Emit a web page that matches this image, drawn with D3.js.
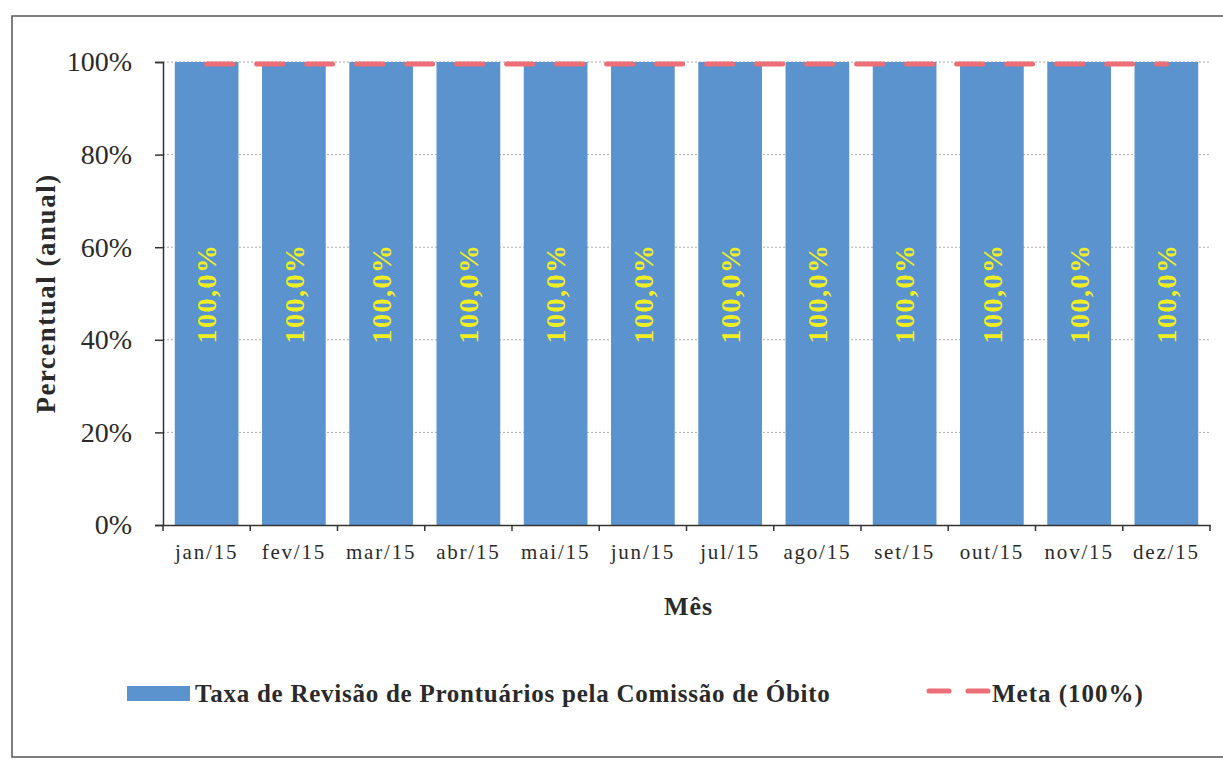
<!DOCTYPE html>
<html lang="pt">
<head>
<meta charset="UTF-8">
<title>Taxa de Revisão de Prontuários</title>
<script src="https://d3js.org/d3.v7.min.js"></script>
<style>
  body { margin: 0; background: #fff; }
  svg { font-family: "Liberation Serif", "Times New Roman", serif; }
</style>
</head>
<body>
<div id="chart"></div>
<script>
  // data
  const months = ["jan/15", "fev/15", "mar/15", "abr/15", "mai/15", "jun/15",
                  "jul/15", "ago/15", "set/15", "out/15", "nov/15", "dez/15"];
  const taxa = [100, 100, 100, 100, 100, 100, 100, 100, 100, 100, 100, 100];
  const meta = [100, 100, 100, 100, 100, 100, 100, 100, 100, 100, 100, 100];
  const yTicks = [0, 20, 40, 60, 80, 100];

  const W = 1223, H = 760;
  const plot = { left: 163, right: 1210, top: 62, bottom: 525 };
  const textColor = "#2a2a2a";

  const svg = d3.select("#chart").append("svg")
    .attr("width", W).attr("height", H);

  // outer frame
  svg.append("rect")
    .attr("x", 12).attr("y", 16)
    .attr("width", 1230).attr("height", 741)
    .attr("fill", "none").attr("stroke", "#555").attr("stroke-width", 1.5);

  const x = d3.scaleBand()
    .domain(months)
    .range([plot.left, plot.right])
    .paddingInner(0.27)
    .paddingOuter(0.135);

  const y = d3.scaleLinear()
    .domain([0, 100])
    .range([plot.bottom, plot.top]);

  // gridlines
  svg.append("g")
    .selectAll("line")
    .data(yTicks.filter(d => d > 0))
    .join("line")
    .attr("x1", plot.left).attr("x2", plot.right)
    .attr("y1", d => y(d)).attr("y2", d => y(d))
    .attr("stroke", "#aaa").attr("stroke-width", 1)
    .attr("stroke-dasharray", "2,2");

  // bars
  svg.append("g")
    .selectAll("rect")
    .data(taxa)
    .join("rect")
    .attr("x", (d, i) => x(months[i]))
    .attr("y", d => y(d))
    .attr("width", x.bandwidth())
    .attr("height", d => y(0) - y(d))
    .attr("fill", "#5b93cf");

  // data labels
  svg.append("g")
    .selectAll("text")
    .data(taxa)
    .join("text")
    .attr("transform", (d, i) =>
      `translate(${x(months[i]) + x.bandwidth() / 2},${(y(d) + y(0)) / 2}) rotate(-90)`)
    .attr("text-anchor", "middle")
    .attr("dy", "0.35em")
    .attr("fill", "#eeee22")
    .style("font-size", "28px")
    .style("letter-spacing", "1.5px")
    .style("font-weight", "bold")
    .text(d => d.toFixed(1).replace(".", ",") + "%");

  // meta line (dashed), through category centres
  const line = d3.line()
    .x((d, i) => x(months[i]) + x.bandwidth() / 2)
    .y(d => y(d) + 2);
  svg.append("path")
    .datum(meta)
    .attr("d", line)
    .attr("fill", "none")
    .attr("stroke", "#ec6f77")
    .attr("stroke-width", 5)
    .attr("stroke-linecap", "round")
    .attr("stroke-dasharray", "26,24")
    .attr("stroke-dashoffset", 0);

  // y axis
  const yAxis = svg.append("g")
    .attr("transform", `translate(${plot.left},0)`)
    .call(d3.axisLeft(y).tickValues(yTicks).tickSize(8).tickPadding(23)
      .tickFormat(d => d + "%"));
  yAxis.select(".domain").attr("stroke", "#333").attr("stroke-width", 1.5);
  yAxis.selectAll(".tick line").attr("stroke", "#333").attr("stroke-width", 1.5);
  yAxis.selectAll("text")
    .style("font-size", "28px")
    .style("font-family", "Liberation Serif, serif")
    .attr("fill", textColor);

  // x axis
  const xAxis = svg.append("g")
    .attr("transform", `translate(0,${plot.bottom})`)
    .call(d3.axisBottom(x).tickSize(0).tickPadding(19));
  xAxis.select(".domain").attr("stroke", "#333").attr("stroke-width", 1.5);
  xAxis.selectAll("text")
    .style("font-size", "21px")
    .style("letter-spacing", "1.8px")
    .style("font-family", "Liberation Serif, serif")
    .attr("fill", textColor);
  // tick marks between categories
  svg.append("g")
    .selectAll("line")
    .data(d3.range(months.length + 1))
    .join("line")
    .attr("x1", i => plot.left + i * (plot.right - plot.left) / months.length)
    .attr("x2", i => plot.left + i * (plot.right - plot.left) / months.length)
    .attr("y1", plot.bottom).attr("y2", plot.bottom + 6)
    .attr("stroke", "#333").attr("stroke-width", 1.5);

  // axis titles
  svg.append("text")
    .attr("x", (plot.left + plot.right) / 2 + 2)
    .attr("y", 615)
    .attr("text-anchor", "middle")
    .style("font-size", "26px").style("font-weight", "bold")
    .style("letter-spacing", "1px")
    .attr("fill", textColor)
    .text("Mês");

  svg.append("text")
    .attr("transform", `translate(55,${(plot.top + plot.bottom) / 2}) rotate(-90)`)
    .attr("text-anchor", "middle")
    .style("font-size", "27px").style("font-weight", "bold")
    .style("letter-spacing", "1.5px")
    .attr("fill", textColor)
    .text("Percentual (anual)");

  // legend
  const lg = svg.append("g");
  lg.append("rect")
    .attr("x", 127).attr("y", 686).attr("width", 63).attr("height", 15)
    .attr("fill", "#5b93cf");
  lg.append("text")
    .attr("x", 195).attr("y", 702)
    .style("font-size", "25px").style("font-weight", "bold")
    .style("letter-spacing", "0.75px")
    .attr("fill", textColor)
    .text("Taxa de Revisão de Prontuários pela Comissão de Óbito");
  lg.append("line")
    .attr("x1", 929).attr("x2", 988).attr("y1", 691).attr("y2", 691)
    .attr("stroke", "#ec6f77").attr("stroke-width", 5)
    .attr("stroke-linecap", "round")
    .attr("stroke-dasharray", "20,19");
  lg.append("text")
    .attr("x", 992).attr("y", 702)
    .style("font-size", "25px").style("font-weight", "bold")
    .style("letter-spacing", "1px")
    .attr("fill", textColor)
    .text("Meta (100%)");
</script>
</body>
</html>
